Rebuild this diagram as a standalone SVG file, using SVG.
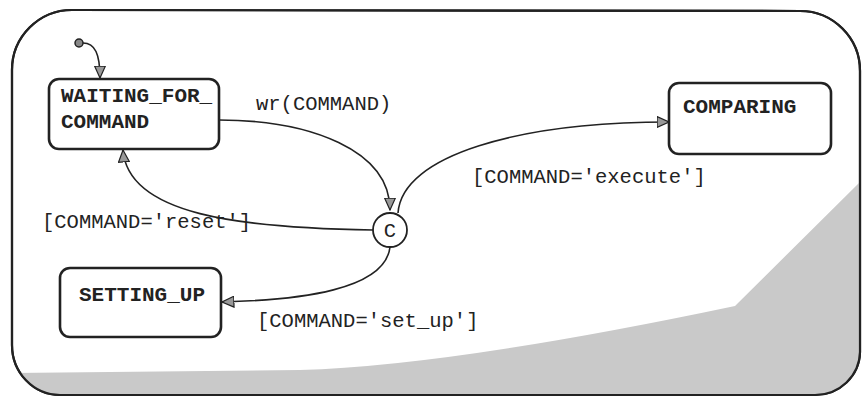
<svg xmlns="http://www.w3.org/2000/svg" width="864" height="398" viewBox="0 0 864 398">
<style>
.frame{fill:#fff;stroke:#222;stroke-width:2.2}
.node{fill:#fff;stroke:#222;stroke-width:2.6}
.edge{fill:none;stroke:#222;stroke-width:1.6}
.bold{font-family:"Liberation Mono","Courier New",monospace;font-weight:bold;font-size:21px;fill:#222}
.lbl{font-family:"Liberation Mono","Courier New",monospace;font-size:20.5px;fill:#222}
</style>
<defs>
<clipPath id="fc"><path d="M12,70 A60,60 0 0 1 72,10 L800,11 A60,60 0 0 1 860,71 L860,352 A45,44 0 0 1 815,395 L60,395 A48,50 0 0 1 12,345 Z"/></clipPath>
<marker id="arr" viewBox="0 0 13 12" refX="12.5" refY="6" markerWidth="13" markerHeight="12" markerUnits="userSpaceOnUse" orient="auto">
<path d="M0.6,0.6 L12.5,6 L0.6,11.4 Z" fill="#999" stroke="#222" stroke-width="1.2"/>
</marker>
</defs>
<g id="frame">
<path class="frame" d="M12,70 A60,60 0 0 1 72,10 L800,11 A60,60 0 0 1 860,71 L860,352 A45,44 0 0 1 815,395 L60,395 A48,50 0 0 1 12,345 Z"/>
<path clip-path="url(#fc)" d="M0,373 L300,370 Q450,366 735,306 L864,178 L864,398 L0,398 Z" fill="#c9c9c9"/>
<path fill="none" stroke="#222" stroke-width="2.2" d="M12,70 A60,60 0 0 1 72,10 L800,11 A60,60 0 0 1 860,71 L860,352 A45,44 0 0 1 815,395 L60,395 A48,50 0 0 1 12,345 Z"/>
</g>
<g id="connectors">
<circle cx="79" cy="43" r="4" fill="#888" stroke="#222" stroke-width="1.5"/>
<path class="edge" marker-end="url(#arr)" d="M83,43 C95,43 100,54 100,78"/>
<path class="edge" marker-end="url(#arr)" d="M219,120 C310,120 390,150 390,210"/>
<path class="edge" marker-end="url(#arr)" d="M398,213 C402,155 520,122 669,122"/>
<path class="edge" marker-end="url(#arr)" d="M373,230 C240,228 128,215 123,150"/>
<path class="edge" marker-end="url(#arr)" d="M390,247 C385,290 300,300 222,302"/>
<text class="lbl" x="256" y="110">wr(COMMAND)</text>
<text class="lbl" x="472" y="183">[COMMAND='execute']</text>
<text class="lbl" x="42" y="228">[COMMAND='reset']</text>
<text class="lbl" x="257" y="327">[COMMAND='set_up']</text>
</g>
<g id="waiting">
<rect class="node" x="49" y="79" width="170" height="70" rx="10"/>
<text class="bold" x="61" y="102">WAITING_FOR_</text>
<text class="bold" x="61" y="128">COMMAND</text>
</g>
<g id="comparing">
<rect class="node" x="669" y="83" width="162" height="71" rx="10"/>
<text class="bold" x="683" y="113">COMPARING</text>
</g>
<g id="setting_up">
<rect class="node" x="60" y="268" width="161" height="69" rx="10"/>
<text class="bold" x="79" y="301">SETTING_UP</text>
</g>
<g id="choice">
<circle cx="390" cy="230" r="17" fill="#fff" stroke="#222" stroke-width="1.8"/>
<text class="lbl" x="390" y="237" text-anchor="middle">C</text>
</g>
</svg>
